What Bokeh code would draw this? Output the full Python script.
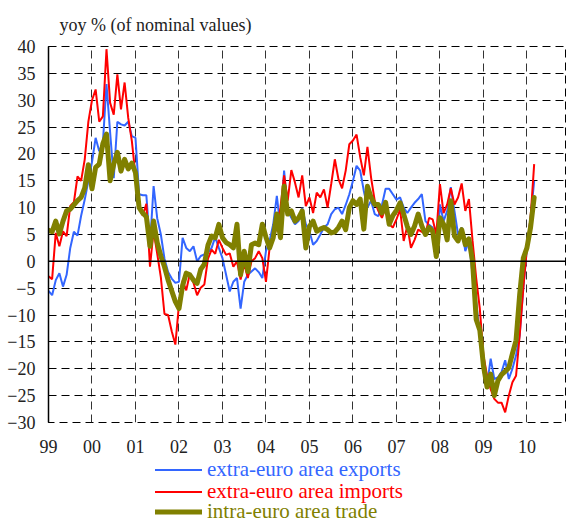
from bokeh.plotting import figure
from bokeh.layouts import column
from bokeh.models import FixedTicker, Span, Legend, LegendItem
from bokeh.embed import file_html
from bokeh.resources import INLINE

start_year = 1999  # monthly data from January 1999

extra_exports = [
    -5.5, -6.3, -3.5, -2.2, -4.7, -2.5, 2.5, 5.5, 4.8, 8.5, 11.5, 15.0,
    18.5, 23.0, 20.5, 22.0, 33.0, 24.0, 15.5, 26.0, 25.5, 25.3, 26.0, 23.3,
    23.0, 12.5, 12.3, 12.3, 3.0, 14.0, 8.0, 5.0, 0.5, -2.0, -3.2, -4.0,
    -3.8, 4.4, 2.5, 1.9, 2.8, 0.0, 1.0, 1.3, 1.6, 2.5, 4.5, 2.5,
    0.6, -2.5, -5.6, -3.8, -3.1, -8.8, -3.8, -2.5, -1.9, -1.3, -2.0, -3.1,
    1.9, 3.8, 6.9, 12.2, 6.3, 16.9, 9.4, 8.1, 6.9, 7.5, 10.0, 6.9,
    5.6, 3.1, 3.8, 5.0, 6.3, 6.9, 8.8, 9.7, 10.0, 8.8, 10.5, 12.5,
    15.0, 17.8, 16.9, 13.1, 10.0, 11.3, 8.8, 8.4, 10.5, 13.5, 13.5, 12.5,
    11.5, 11.9, 10.0, 9.0, 10.0, 10.9, 11.6, 12.5, 7.5, 6.8, 6.3, 0.6,
    10.6, 7.5, 9.4, 13.8, 9.4, 5.0, 6.3, 1.9, 3.8, -2.5, -7.5, -13.8,
    -20.6, -23.0, -18.1, -21.9, -21.6, -20.6, -18.4, -21.9, -20.0, -17.5, -13.8, -5.0,
    2.5, 8.1, 15.0,
]

extra_imports = [
    -2.8, -3.3, 5.3, 2.8, 5.6, 4.7, 10.3, 11.0, 15.8, 15.0, 19.0, 26.0,
    30.0, 32.0, 26.0, 27.0, 39.5, 29.5, 27.3, 34.8, 28.3, 33.3, 26.7, 22.4,
    16.0, 10.0, 8.5, 10.7, -1.0, 5.7, 1.4, -3.0, -9.8, -10.0, -13.0, -15.5,
    -8.0, -3.6, -5.4, -2.3, -4.0, -6.3, -4.9, -4.3, 0.5, 2.2, 1.4, 4.0,
    2.5, 1.2, 1.5, -1.0, 0.0, -3.4, -0.5, -3.1, 0.0, 0.6, 1.9, 0.6,
    -3.8, 2.5, 4.4, 6.3, 10.0, 16.0, 11.3, 17.0, 14.7, 11.9, 16.0, 10.3,
    11.9, 9.0, 12.8, 11.9, 13.4, 10.0, 14.4, 19.0, 15.3, 13.6, 16.9, 21.8,
    22.5, 23.6, 19.4, 16.0, 21.3, 15.6, 11.3, 9.4, 8.1, 10.0, 6.9, 6.3,
    7.8, 9.7, 3.8, 6.6, 2.5, 4.0, 5.9, 5.5, 5.0, 8.1, 7.8, 5.0,
    14.4, 9.0, 10.6, 13.6, 10.6, 11.9, 14.5, 9.4, 11.6, 3.8, -3.1, -8.8,
    -17.5, -21.3, -23.8, -25.6, -26.3, -26.3, -28.1, -25.0, -22.5, -21.3, -13.8, -5.0,
    2.5, 8.1, 18.1,
]

intra_trade = [
    5.8, 5.5, 7.5, 5.1, 7.5, 9.4, 9.7, 10.5, 11.3, 11.9, 13.7, 18.0,
    13.5, 17.5, 18.1, 21.9, 23.7, 15.0, 18.1, 20.3, 16.8, 19.0, 17.2, 18.3,
    16.5, 10.0, 9.0, 8.3, 2.8, 7.5, 3.5, 1.0, -1.0, -3.5, -5.5, -7.5,
    -8.8, -4.5, -2.2, -2.5, -3.5, -4.1, -1.5, -0.5, 3.0, 4.7, 4.4, 6.9,
    4.4, 3.5, 3.1, 2.5, 6.9, -2.5, 1.9, -1.9, 3.1, 3.4, 3.1, 6.9,
    4.5, 2.5, 4.4, 8.8, 4.4, 14.0, 8.8, 9.4, 7.5, 8.1, 9.4, 2.5,
    6.5, 7.5, 5.6, 6.0, 6.3, 5.9, 5.3, 5.5, 6.3, 7.5, 5.9, 10.0,
    11.3, 10.6, 11.6, 6.0, 14.0, 11.9, 10.6, 10.6, 9.0, 11.0, 6.9, 8.5,
    9.5, 10.9, 8.8, 6.5, 5.0, 6.6, 8.8, 6.6, 5.0, 6.3, 5.6, 0.9,
    8.1, 6.9, 4.0, 11.3, 4.7, 3.8, 5.9, 3.1, 4.2, 0.0, -10.8, -12.8,
    -19.4, -23.4, -21.0, -25.0, -22.2, -21.1, -20.5, -19.8, -17.2, -14.7, -6.2, 0.6,
    2.5, 6.3, 11.9,
]

year_ticks = list(range(1999, 2011))
year_labels = ["99", "00", "01", "02", "03", "04", "05", "06", "07", "08", "09", "10"]
y_ticks = list(range(-30, 41, 5))

series_names = ["extra-euro area exports", "extra-euro area imports", "intra-euro area trade"]
series_colors = ["#3366FF", "#FF0000", "#808000"]
series_widths = [2, 2, 5]

months = [start_year + i / 12.0 for i in range(len(extra_exports))]

FONT = "Liberation Serif"

p = figure(width=566, height=457, x_range=(1999, 2010.91), y_range=(-30, 40),
           output_backend="svg", toolbar_location=None,
           min_border_left=48, min_border_right=0, min_border_top=46, min_border_bottom=35)

p.background_fill_color = "white"
p.border_fill_color = "white"
p.outline_line_color = "black"
p.outline_line_dash = "8 5"
p.outline_line_width = 1

# title
p.title.text = "yoy % (of nominal values)"
p.title.text_font = FONT
p.title.text_font_size = "18px"
p.title.text_font_style = "normal"
p.title.text_color = "#222222"
p.title.align = "left"
p.title.offset = 11
p.title.standoff = 24

# grids
p.ygrid.ticker = FixedTicker(ticks=y_ticks)
p.ygrid.grid_line_color = "black"
p.ygrid.grid_line_dash = "8 5"
p.ygrid.grid_line_width = 1
p.xgrid.ticker = FixedTicker(ticks=year_ticks)
p.xgrid.grid_line_color = "#333333"
p.xgrid.grid_line_dash = "8 5"
p.xgrid.grid_line_width = 1

# axes
p.yaxis.ticker = FixedTicker(ticks=y_ticks)
p.yaxis.axis_line_color = "black"
p.yaxis.axis_line_width = 1.5
p.yaxis.major_tick_in = 4
p.yaxis.major_tick_out = 0
p.yaxis.major_tick_line_color = "black"
p.yaxis.minor_tick_line_color = None
p.yaxis.major_label_standoff = 13
p.yaxis.major_label_text_font = FONT
p.yaxis.major_label_text_font_size = "18px"
p.yaxis.major_label_text_color = "#222222"

p.xaxis.ticker = FixedTicker(ticks=year_ticks)
p.xaxis.major_label_overrides = {t: l for t, l in zip(year_ticks, year_labels)}
p.xaxis.axis_line_color = None
p.xaxis.major_tick_line_color = None
p.xaxis.minor_tick_line_color = None
p.xaxis.major_label_standoff = 11
p.xaxis.major_label_text_font = FONT
p.xaxis.major_label_text_font_size = "18px"
p.xaxis.major_label_text_color = "#222222"

p.add_layout(Span(location=0, dimension="width", line_color="black", line_width=1.5))

p.line(months, extra_exports, line_color=series_colors[0], line_width=series_widths[0])
p.line(months, extra_imports, line_color=series_colors[1], line_width=series_widths[1])
p.line(months, intra_trade, line_color=series_colors[2], line_width=series_widths[2],
       line_join="round", line_cap="round")

# legend strip below the chart (its frame is aligned with the main frame)
leg_fig = figure(width=566, height=64, x_range=(0, 1), y_range=(0, 1),
                 output_backend="svg", toolbar_location=None,
                 x_axis_type=None, y_axis_type=None, min_border=0)
leg_fig.outline_line_color = None
leg_fig.background_fill_color = "white"
leg_fig.border_fill_color = "white"
leg_fig.grid.visible = False

nan = float("nan")
row_bottoms = [39, 17, -3]
for name, color, lw, yb in zip(series_names, series_colors, series_widths, row_bottoms):
    dummy = leg_fig.line(x=[nan, nan], y=[nan, nan], line_color=color, line_width=lw,
                         line_cap="round")
    leg = Legend(items=[LegendItem(label=name, renderers=[dummy])],
                 location=(107, yb), orientation="vertical",
                 padding=0, margin=0, spacing=0,
                 border_line_color=None, background_fill_alpha=0,
                 glyph_width=47, glyph_height=21, label_height=21,
                 label_standoff=5,
                 label_text_font=FONT, label_text_font_size="21px",
                 label_text_color=color)
    leg_fig.add_layout(leg, "center")

layout = column(p, leg_fig, spacing=0)
open("out.html", "w").write(file_html(layout, INLINE))
